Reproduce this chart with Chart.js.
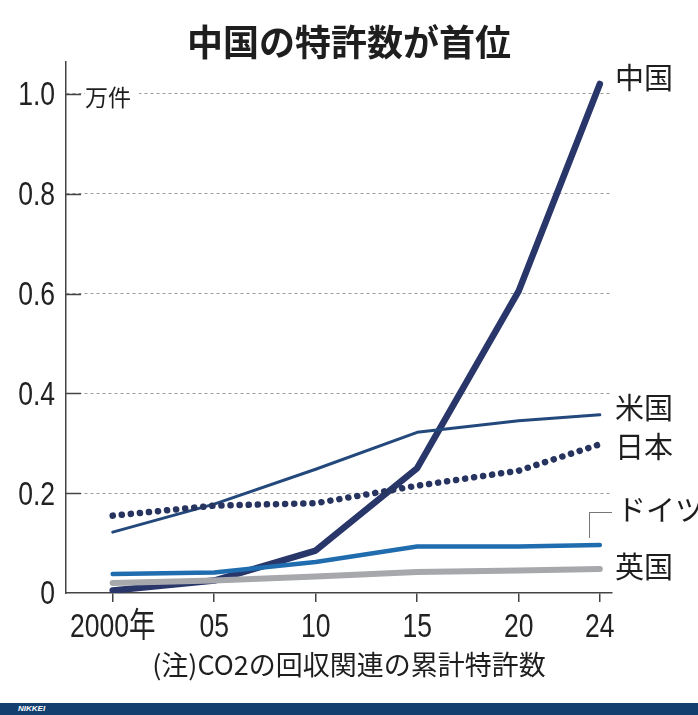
<!DOCTYPE html>
<html>
<head>
<meta charset="utf-8">
<script src="https://cdn.jsdelivr.net/npm/chart.js@4"></script>
<style>
  body { margin: 0; background: #fff; }
  #wrap { position: relative; width: 698px; height: 715px; overflow: hidden; font-family: 'Noto Sans CJK JP', sans-serif; color: #1e1e1e; }
  canvas { position: absolute; left: 0; top: 0; }
  .t { position: absolute; white-space: nowrap; line-height: 1; }
  #title { left: 0; width: 698px; top: 22px; text-align: center; font-size: 36px; font-weight: bold; }
  #unit { left: 85px; top: 85px; font-size: 23px; background: #fff; padding-right: 8px; }
  .lbl { font-size: 29px; left: 615px; }
  #note { left: 0; width: 698px; top: 650px; text-align: center; font-size: 27px; }
  #band { position: absolute; left: 0; top: 703px; width: 698px; height: 12px; background: #123f6e; }
  #band span { position: absolute; left: 18px; top: 1px; color: #fff; font: italic bold 8px 'Liberation Sans', sans-serif; }
  #bracket { position: absolute; left: 589px; top: 512px; width: 22px; height: 25px; border-left: 1.5px solid #777; border-top: 1.5px solid #777; }
</style>
</head>
<body>
<div id="wrap">
  <canvas id="chart" width="698" height="715"></canvas>
  <div class="t" id="title">中国の特許数が首位</div>
  <div class="t" id="unit">万件</div>
  <div class="t lbl" style="top:62px">中国</div>
  <div class="t lbl" style="top:392px">米国</div>
  <div class="t lbl" style="top:431px">日本</div>
  <div class="t lbl" style="top:494px;left:617px">ドイツ</div>
  <div class="t lbl" style="top:551px">英国</div>
  <div id="bracket"></div>
  <div class="t" id="note">(注)CO2の回収関連の累計特許数</div>
  <div id="band"><span>NIKKEI</span></div>
</div>
<script>
const years = [2000, 2005, 2010, 2015, 2020, 2024];
const yearLabels = ['2000年', '05', '10', '15', '20', '24'];
const yTicks = [0, 0.2, 0.4, 0.6, 0.8, 1.0];

const china = [0.005, 0.025, 0.085, 0.25, 0.605, 1.02];
const usa = [0.122, 0.178, 0.248, 0.322, 0.345, 0.357];
const japan = [0.155, 0.175, 0.18, 0.215, 0.245, 0.298];
const germany = [0.038, 0.041, 0.062, 0.093, 0.093, 0.096];
const uk = [0.02, 0.025, 0.033, 0.042, 0.045, 0.048];

const labelFont = "34px 'Liberation Sans', 'Noto Sans CJK JP', sans-serif";
const squeeze = 0.78; // the original uses a narrow face, no condensed font here

function toPoints(values) {
  return years.map((yr, i) => ({ x: yr, y: values[i] }));
}

function narrowText(ctx, text, x, y, align) {
  ctx.save();
  ctx.translate(x, y);
  ctx.scale(squeeze, 1);
  ctx.textAlign = align;
  ctx.fillText(text, 0, 0);
  ctx.restore();
}

// inner ticks on y axis + condensed tick labels, placed from the scales
const axisDecor = {
  id: 'axisDecor',
  afterDraw(chart) {
    const ctx = chart.ctx;
    const xs = chart.scales.x;
    const ys = chart.scales.y;
    const area = chart.chartArea;
    ctx.save();
    ctx.strokeStyle = '#444';
    ctx.lineWidth = 1.5;
    yTicks.forEach(v => {
      if (v === 0) return;
      const py = Math.round(ys.getPixelForValue(v)) + 0.5;
      ctx.beginPath();
      ctx.moveTo(area.left, py);
      ctx.lineTo(area.left + 15, py);
      ctx.stroke();
    });

    ctx.fillStyle = '#222';
    ctx.font = labelFont;
    ctx.textBaseline = 'middle';
    yTicks.forEach(v => {
      const txt = v === 0 ? '0' : v.toFixed(1);
      narrowText(ctx, txt, area.left - 11, ys.getPixelForValue(v) + 2, 'right');
    });
    years.forEach((yr, i) => {
      narrowText(ctx, yearLabels[i], xs.getPixelForValue(yr), area.bottom + 35, 'center');
    });
    ctx.restore();
  }
};

const ctx = document.getElementById('chart').getContext('2d');
new Chart(ctx, {
  type: 'line',
  data: {
    datasets: [
      { label: '英国', data: toPoints(uk), borderColor: '#a7a8ac', borderWidth: 6 },
      { label: 'ドイツ', data: toPoints(germany), borderColor: '#1f6cae', borderWidth: 4.5 },
      { label: '日本', data: toPoints(japan), borderColor: '#27345f', borderWidth: 6.5, borderDash: [0.1, 9], borderCapStyle: 'round' },
      { label: '米国', data: toPoints(usa), borderColor: '#23487c', borderWidth: 3 },
      { label: '中国', data: toPoints(china), borderColor: '#28366a', borderWidth: 6.5 }
    ]
  },
  options: {
    responsive: false,
    animation: false,
    events: [],
    layout: { padding: { left: 0, top: 62, right: 86, bottom: 0 } },
    elements: {
      point: { radius: 0 },
      line: { tension: 0, borderCapStyle: 'round', borderJoinStyle: 'round', fill: false }
    },
    plugins: { legend: { display: false }, tooltip: { enabled: false } },
    scales: {
      x: {
        type: 'linear',
        min: 1997.7,
        max: 2024.6,
        afterBuildTicks: s => { s.ticks = years.map(v => ({ value: v })); },
        afterFit: s => { s.height = 122; },
        ticks: { display: false },
        grid: { drawOnChartArea: false, drawTicks: true, tickLength: 9, color: '#444', lineWidth: 1.5 },
        border: { display: true, color: '#444', width: 1.5 }
      },
      y: {
        min: 0,
        max: 1.064,
        afterBuildTicks: s => { s.ticks = yTicks.map(v => ({ value: v })); },
        afterFit: s => { s.width = 66; },
        ticks: { display: false },
        grid: {
          drawTicks: false,
          lineWidth: 1,
          color: c => c.tick && c.tick.value === 0 ? 'rgba(0,0,0,0)' : '#9a9a9a'
        },
        border: { display: true, color: '#444', width: 1.5, dash: [3, 3] }
      }
    }
  },
  plugins: [axisDecor]
});
</script>
</body>
</html>
